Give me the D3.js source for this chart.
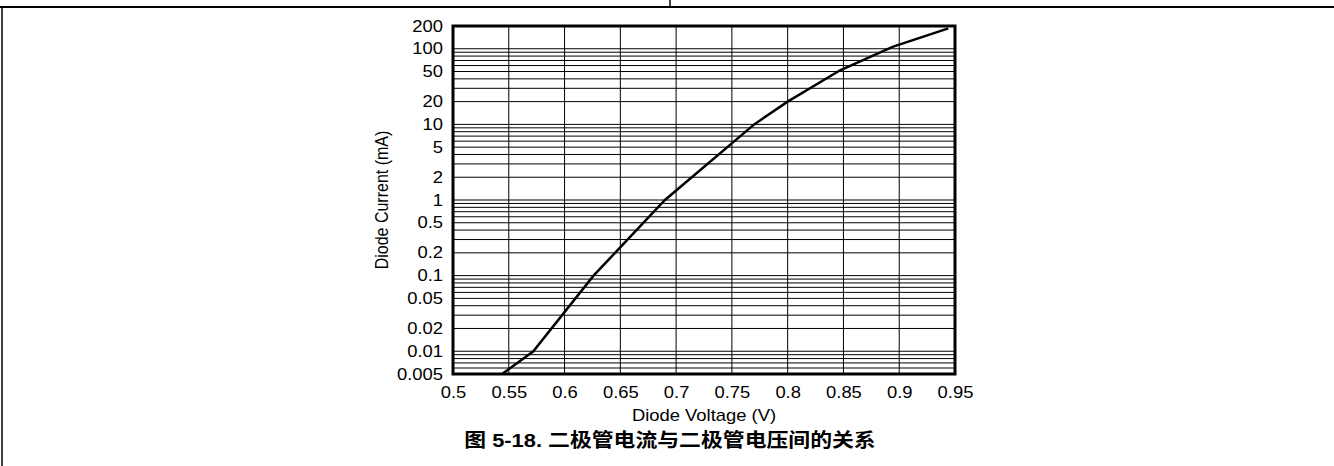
<!DOCTYPE html>
<html>
<head>
<meta charset="utf-8">
<script src="https://cdn.jsdelivr.net/npm/d3@7"></script>
<style>
  body { margin: 0; background: #fff; }
  text { font-family: Arial, "Liberation Sans", sans-serif; }
</style>
</head>
<body>
<svg id="chart" width="1334" height="466"></svg>
<script>
// Data (diode voltage in V, diode current in mA)
var voltage = [0.544, 0.572, 0.626, 0.69, 0.77, 0.8, 0.847, 0.894, 0.944];
var current = [0.005, 0.01, 0.1, 1, 10, 20, 52, 106, 186];

var xTicks = [0.5, 0.55, 0.6, 0.65, 0.7, 0.75, 0.8, 0.85, 0.9, 0.95];
var yTicks = [0.005, 0.01, 0.02, 0.05, 0.1, 0.2, 0.5, 1, 2, 5, 10, 20, 50, 100, 200];

var xTitle = "Diode Voltage (V)";
var yTitle = "Diode Current (mA)";
var caption = "图 5-18. 二极管电流与二极管电压间的关系";

// the source picture is a little stretched sideways, text too
var stretch = 1.15;

// Plot box inside the page
var margin = { top: 26, right: 379, bottom: 92, left: 453 };
const width = 1334 - margin.left - margin.right;
const height = 466 - margin.top - margin.bottom;

var svg = d3.select("#chart");

// page frame lines
svg.append("line").attr("x1", 0).attr("x2", 1334).attr("y1", 7).attr("y2", 7)
    .attr("stroke", "#000").attr("stroke-width", 2);
svg.append("line").attr("x1", 670).attr("x2", 670).attr("y1", 0).attr("y2", 7)
    .attr("stroke", "#000").attr("stroke-width", 1.5);
svg.append("line").attr("x1", 2).attr("x2", 2).attr("y1", 7).attr("y2", 466)
    .attr("stroke", "#000").attr("stroke-width", 1.5);

var g = svg.append("g")
    .attr("transform", "translate(" + margin.left + "," + margin.top + ")");

var xScale = d3.scaleLinear().domain([0.5, 0.95]).range([0, width]);
var yScale = d3.scaleLog().domain([0.005, 200]).range([height, 0]);

// minor log grid: 1..9 in every decade
var gridY = [];
for (var e = -3; e <= 2; e++) {
    for (var k = 1; k <= 9; k++) {
        var v = +(k * Math.pow(10, e)).toPrecision(3);
        if (v > 0.005 && v < 200) gridY.push(v);
    }
}

g.selectAll(".hgrid")
    .data(gridY)
    .enter()
    .append("line")
    .attr("class", "hgrid")
    .attr("x1", 0)
    .attr("x2", width)
    .attr("y1", function(d) { return yScale(d); })
    .attr("y2", function(d) { return yScale(d); })
    .attr("stroke", "#000")
    .attr("stroke-width", 1);

g.selectAll(".vgrid")
    .data(xTicks.slice(1, -1))
    .enter()
    .append("line")
    .attr("class", "vgrid")
    .attr("x1", function(d) { return xScale(d); })
    .attr("x2", function(d) { return xScale(d); })
    .attr("y1", 0)
    .attr("y2", height)
    .attr("stroke", "#000")
    .attr("stroke-width", 1);

// axes (labels only, the box draws the frame)
var xAxis = d3.axisBottom(xScale)
    .tickValues(xTicks)
    .tickSize(0)
    .tickPadding(13)
    .tickFormat(function(d) { return String(d); });
var yAxis = d3.axisLeft(yScale)
    .tickValues(yTicks)
    .tickSize(0)
    .tickPadding(10)
    .tickFormat(function(d) { return String(d); });

g.append("g")
    .attr("class", "x-axis")
    .attr("transform", "translate(0," + height + ")")
    .call(xAxis);
g.append("g")
    .attr("class", "y-axis")
    .call(yAxis);

g.selectAll(".x-axis text, .y-axis text")
    .style("font-size", "16px")
    .attr("fill", "#000");
g.selectAll(".x-axis text")
    .attr("transform", "scale(" + stretch + ",1)");
g.selectAll(".y-axis text")
    .attr("x", null)
    .attr("transform", "translate(-10,0) scale(" + stretch + ",1)");
g.selectAll(".domain").remove();

// the curve
var line = d3.line()
    .x(function(d) { return xScale(d[0]); })
    .y(function(d) { return yScale(d[1]); });

g.append("path")
    .datum(d3.zip(voltage, current))
    .attr("d", line)
    .attr("fill", "none")
    .attr("stroke", "#000")
    .attr("stroke-width", 2.5);

// frame of the plot
g.append("rect")
    .attr("x", 0)
    .attr("y", 0)
    .attr("width", width)
    .attr("height", height)
    .attr("fill", "none")
    .attr("stroke", "#000")
    .attr("stroke-width", 3);

// axis titles
g.append("g")
    .attr("transform", "translate(" + (width / 2) + "," + (height + 47) + ") scale(" + stretch + ",1)")
    .append("text")
    .style("text-anchor", "middle")
    .style("font-size", "16px")
    .text(xTitle);

g.append("g")
    .attr("transform", "translate(-65," + (height / 2) + ") scale(" + stretch + ",1) rotate(-90)")
    .append("text")
    .style("text-anchor", "middle")
    .style("font-size", "16px")
    .text(yTitle);

// figure caption
svg.append("g")
    .attr("transform", "translate(670,447) scale(" + stretch + ",1)")
    .append("text")
    .style("text-anchor", "middle")
    .style("font-size", "19px")
    .style("font-weight", "bold")
    .style("font-family", "Arial, 'Liberation Sans', 'Noto Sans CJK SC', sans-serif")
    .text(caption);
</script>
</body>
</html>
